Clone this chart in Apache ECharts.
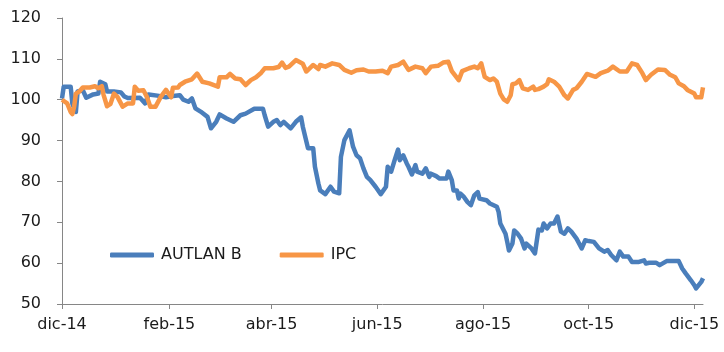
<!DOCTYPE html>
<html>
<head>
    <meta charset="utf-8">
    <title>AUTLAN B vs IPC</title>
    <script src="https://cdn.jsdelivr.net/npm/echarts@6/dist/echarts.min.js"></script>
    <style>
        html, body { margin: 0; padding: 0; background: #fff; }
    </style>
</head>
<body>
    <div id="chart" style="width: 724px;height:352px"></div>

    <script>
        // días contados desde el 1 de diciembre de 2014
        const autlanDias = [0, 1, 5, 6, 8, 9, 12, 14, 18, 21, 22, 25, 26, 30, 34, 36, 38, 45, 48, 50,
            55, 60, 64, 68, 70, 73, 75, 77, 80, 84, 86, 89, 91, 95, 99, 103, 106, 111, 116, 117,
            119, 122, 124, 126, 128, 132, 135, 138, 139, 142, 145, 146, 148, 149, 152, 155, 157, 160, 161, 163,
            165, 166, 168, 170, 172, 174, 176, 178, 181, 184, 187, 188, 190, 192, 194, 195, 197, 199, 200, 202,
            204, 205, 208, 210, 212, 213, 216, 218, 222, 223, 225, 226, 228, 229, 230, 232, 234, 236, 238, 240,
            241, 245, 247, 251, 252, 253, 256, 257, 258, 260, 261, 263, 265, 267, 268, 271, 273, 275, 277, 278,
            280, 282, 284, 286, 288, 290, 292, 294, 297, 300, 302, 304, 307, 308, 310, 313, 315, 317, 320, 322,
            324, 327, 329, 333, 336, 337, 339, 343, 345, 349, 356, 358, 360, 363, 365, 366, 369, 370]
        const autlanValores = [100.3, 103.2, 103.2, 99, 97, 102, 102.3, 100.5, 101.3, 101.5, 104.4, 103.8, 102, 102, 101.8, 100.8, 100.4, 100.5, 99.1, 101.3,
            101, 100.6, 100.9, 101.1, 100, 99.5, 100.3, 97.9, 97.1, 95.8, 93, 94.6, 96.4, 95.4, 94.6, 96.2, 96.6, 97.8, 97.8, 96.2,
            93.4, 94.6, 95, 93.8, 94.6, 93, 94.6, 95.7, 93.4, 88.1, 88.1, 83.6, 79.5, 77.8, 76.9, 78.7, 77.5, 77.1, 86, 90.1,
            91.7, 92.5, 88.5, 86.4, 85.7, 83.2, 81.1, 80.3, 78.7, 76.9, 78.7, 83.6, 82.4, 85.2, 87.8, 85.2, 86.4, 84.4, 83.6, 81.7,
            84, 82.4, 81.9, 83.2, 81.1, 81.9, 81.3, 80.7, 80.7, 82.4, 80.3, 77.8, 77.8, 75.8, 77, 76.2, 75, 74.2, 76.6, 77.4,
            75.8, 75.4, 74.6, 73.8, 72.6, 69.7, 67.2, 65.2, 63.1, 64.8, 68, 67.2, 66, 63.6, 64.8, 63.6, 62.4, 68.2, 68, 69.7,
            68.5, 69.7, 69.7, 71.4, 67.7, 67.2, 68.5, 67.7, 66, 63.6, 65.6, 65.4, 65.2, 65.2, 63.6, 62.8, 63.2, 62, 60.7, 62.8,
            61.6, 61.6, 60.3, 60.3, 60.7, 59.9, 60.1, 60.1, 59.5, 60.5, 60.5, 58.7, 57.5, 55.8, 54.6, 53.8, 55.4, 56.3]

        const ipcDias = [0, 3, 5, 6, 7, 8, 10, 12, 16, 19, 21, 23, 24, 26, 28, 30, 32, 35, 38, 41,
            42, 44, 47, 49, 51, 54, 57, 60, 61, 63, 64, 67, 68, 71, 75, 78, 81, 85, 90, 91,
            95, 97, 100, 103, 106, 109, 112, 115, 117, 122, 125, 127, 129, 131, 135, 139, 141, 145, 148, 149,
            152, 156, 160, 163, 167, 170, 174, 177, 181, 185, 188, 190, 194, 197, 200, 204, 208, 210, 213, 217,
            220, 223, 225, 229, 231, 235, 238, 240, 242, 244, 247, 249, 251, 253, 255, 257, 259, 260, 262, 264,
            266, 267, 269, 272, 273, 275, 278, 280, 281, 284, 285, 287, 290, 292, 295, 297, 300, 303, 304, 308,
            311, 315, 318, 322, 326, 329, 332, 335, 337, 340, 344, 348, 351, 354, 356, 359, 361, 365, 366, 369, 370]
        const ipcValores = [100, 99.1, 97, 96.5, 98.3, 101.5, 102, 103, 103, 103.3, 102.8, 103.3, 101.2, 98.4, 99, 101.5, 100.7, 98.3, 99.1, 99.1,
            103.2, 102.2, 102.3, 100.7, 98.3, 98.3, 100.7, 102.4, 102.5, 100.6, 102.9, 103, 103.6, 104.4, 105, 106.4, 104.4, 104, 103.2, 105.5,
            105.5, 106.3, 105.2, 105, 103.6, 104.8, 105.5, 106.6, 107.7, 107.7, 108, 109.1, 107.8, 108.1, 109.7, 108.8, 106.9, 108.5, 107.5, 108.5,
            108.1, 108.9, 108.5, 107.3, 106.6, 107.2, 107.4, 106.9, 106.9, 107.1, 106.5, 108.1, 108.5, 109.3, 107.3, 108.1, 107.7, 106.5, 108.1, 108.3,
            109.1, 109.3, 107, 104.8, 107, 107.7, 108.1, 107.7, 108.9, 105.6, 104.8, 105.2, 104.4, 101.5, 100.1, 99.5, 101.1, 103.8, 104, 104.8,
            102.8, 103.2, 102.4, 103.2, 102.4, 102.6, 103.2, 103.8, 105, 104.4, 104.6, 103.2, 101.1, 100.3, 102.4, 102.8, 104.4, 106.3, 106.4, 105.6,
            106.5, 107.1, 108.1, 106.9, 106.9, 108.9, 108.5, 106.5, 104.8, 106.1, 107.4, 107.3, 106.1, 105.5, 104, 103.3, 102.4, 101.5, 100.6, 100.6, 103]

        // marcas del eje X: dic-14, feb-15, abr-15, jun-15, ago-15, oct-15, dic-15
        const diasEtiquetas = [0, 62, 121, 182, 243, 304, 365]
        const meses = ['ene', 'feb', 'mar', 'abr', 'may', 'jun', 'jul', 'ago', 'sep', 'oct', 'nov', 'dic']
        const diaFinal = 370

        const pares = (dias, vals) => dias.map((d, i) => [d, vals[i]])
        const fuente = 'DejaVu Sans'
        const gris = '#868686'
        const etiqueta = d => {
            const f = new Date(2014, 11, 1 + Math.round(d))
            return meses[f.getMonth()] + '-' + String(f.getFullYear()).slice(2)
        }

        const chart = echarts.init(document.getElementById('chart'))
        chart.setOption({
            animation: false,
            textStyle: { fontFamily: fuente },
            grid: { left: 62, right: 21, top: 18, bottom: 48 },
            legend: {
                left: 105, top: 242,
                itemWidth: 44, itemHeight: 5, itemGap: 38,
                icon: 'roundRect',
                textStyle: { fontFamily: fuente, fontSize: 16, color: '#1a1a1a', padding: [0, 0, 0, 2] },
                data: ['AUTLAN B', 'IPC']
            },
            xAxis: {
                type: 'value',
                min: 0,
                max: diaFinal,
                splitLine: { show: false },
                axisLine: { lineStyle: { color: gris, width: 1 } },
                axisTick: { show: true, length: 5, lineStyle: { color: gris }, customValues: diasEtiquetas },
                axisLabel: {
                    customValues: diasEtiquetas,
                    fontFamily: fuente, fontSize: 16, color: '#1a1a1a', margin: 13,
                    formatter: etiqueta
                }
            },
            yAxis: {
                type: 'value',
                min: 50, max: 120, interval: 10,
                splitLine: { show: false },
                axisLine: { show: true, lineStyle: { color: gris, width: 1 } },
                axisTick: { show: true, length: 5, lineStyle: { color: gris } },
                axisLabel: { fontFamily: fuente, fontSize: 16, color: '#1a1a1a', margin: 21 }
            },
            series: [
                {
                    name: 'AUTLAN B', type: 'line', showSymbol: false, symbol: 'none',
                    data: pares(autlanDias, autlanValores),
                    color: '#4a7ebb',
                    lineStyle: { width: 4.5, color: '#4a7ebb', join: 'round' }
                },
                {
                    name: 'IPC', type: 'line', showSymbol: false, symbol: 'none',
                    data: pares(ipcDias, ipcValores),
                    color: '#f79646',
                    lineStyle: { width: 4.5, color: '#f79646', join: 'round' }
                }
            ]
        })
    </script>
</body>
</html>
